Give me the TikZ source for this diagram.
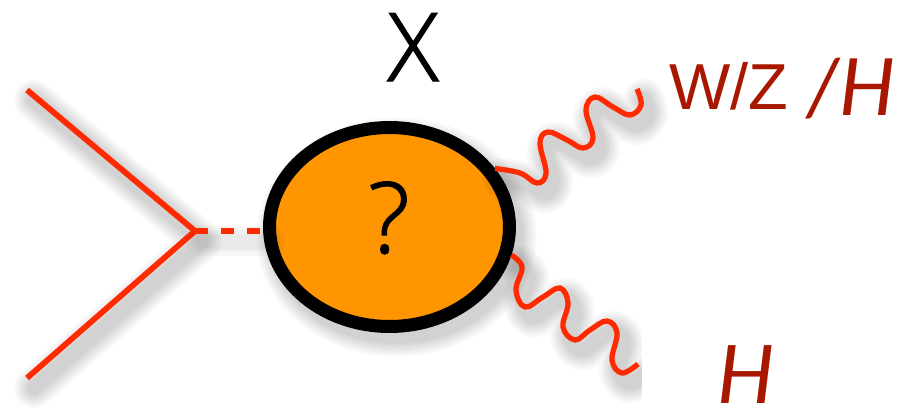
\documentclass[tikz,border=0pt]{standalone}
\usepackage{fontspec}
\setmainfont{Liberation Sans}
\newfontfamily\thinfont[FakeBold=1.5]{Open Sans Light}
\newfontfamily\midfont{Lato}
\usetikzlibrary{positioning,shapes.geometric}

\definecolor{linered}{HTML}{FF2A00}
\definecolor{blobfill}{HTML}{FF9500}
\definecolor{labelred}{HTML}{A81800}

\begin{document}
\begin{tikzpicture}[
    x=0.02cm,
    y=-0.02cm,
    layer/.style={
        preaction={
            draw=black,
            draw opacity=.028,
            line cap=round,
            line join=round,
            line width=#1,
            transform canvas={shift={(.14cm,-.2cm)}}
        }
    },
    softshadow/.style={
        layer=.8cm, layer=.7cm, layer=.6cm, layer=.52cm,
        layer=.44cm, layer=.36cm, layer=.28cm
    },
    fermion/.style={
        draw=linered,
        line width=.115cm,
        softshadow
    },
    scalar/.style={
        draw=linered,
        line width=.115cm,
        layer=.6cm, layer=.44cm, layer=.3cm,
        dash pattern=on .26cm off .26cm
    },
    wave/.style={
        fermion,
        line width=.105cm
    },
    blob/.style={
        ellipse,
        draw=black,
        fill=blobfill,
        line width=.26cm,
        inner sep=0pt,
        minimum width=4.8cm,
        minimum height=3.98cm,
        softshadow
    },
    label/.style={
        anchor=base west,
        inner sep=0pt,
        text depth=0pt,
        text=labelred
    }
]

\useasboundingbox (0,0) rectangle (922,410);

\coordinate (inA) at (27,90);
\coordinate (inB) at (27,378);
\coordinate (vertex) at (195,231);
\coordinate (endW) at (637,89);
\coordinate (endH) at (638,364);

\node[blob] (core) at (389.5,227) {};

\draw[fermion] (inA) -- (vertex) -- (inB);
\draw[scalar] (vertex) -- (vertex -| core.west);

% wavy lines
\draw[wave] plot[smooth,tension=.65] coordinates {(core.29) (520,173) (537,183) (546,173) (540,143) (548,132) (567,140) (583,148) (593,138) (586,110) (595,97) (613,107) (630,115) (641,105) (endW)};
\draw[wave] plot[smooth,tension=.65] coordinates {(core.347) (522,267) (516,290) (525,307) (543,297) (560,288) (568,303) (563,327) (575,340) (590,330) (607,321) (617,333) (612,360) (622,373) (endH)};

% white box of the labels
\fill[white] (642,320) rectangle (922,410);

\node[anchor=base, inner sep=0pt, font=\thinfont\fontsize{54}{54}\selectfont] (topname) at (413,81) {X};
\node[anchor=base, inner sep=0pt, font=\thinfont\fontsize{56}{56}\selectfont] (query) at (389,253) {?};
\node[label, font=\fontsize{37}{37}\selectfont] (wz) at (669,109) {W/Z};
\node[label, font=\midfont\itshape\fontsize{45}{45}\selectfont] (higgsA) at (806,115) {/H};
\node[label, font=\midfont\itshape\fontsize{46}{46}\selectfont] (higgsB) at (717,403) {H};

\end{tikzpicture}
\end{document}
